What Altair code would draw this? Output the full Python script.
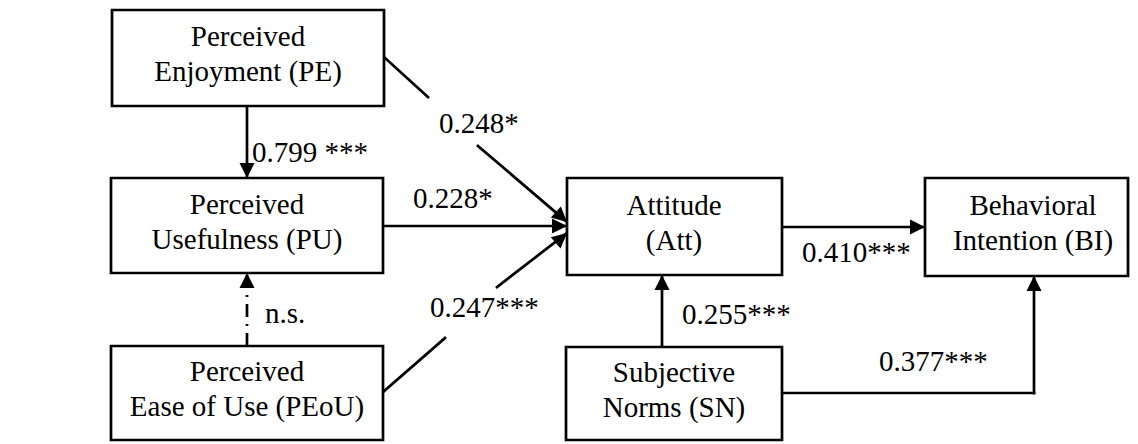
import altair as alt
import pandas as pd

# ---- nodes (constructs) ----
node_ids = ["PE", "PU", "PEoU", "Att", "BI", "SN"]
node_line1 = ["Perceived", "Perceived", "Perceived", "Attitude", "Behavioral", "Subjective"]
node_line2 = ["Enjoyment (PE)", "Usefulness (PU)", "Ease of Use (PEoU)", "(Att)", "Intention (BI)", "Norms (SN)"]
node_left = [112, 111, 111, 567, 925, 566]
node_right = [384, 383, 383, 782, 1128, 782]
node_top = [10, 178, 346, 178, 178, 347]
node_bottom = [106, 273, 440, 275, 276, 440]
node_text_x = [248, 247, 247, 674, 1033, 674]

# ---- path coefficient labels ----
coef_labels = ["0.799 ***", "n.s.", "0.248*", "0.228*", "0.247***", "0.255***", "0.410***", "0.377***"]
coef_x = [252, 265, 439, 413, 430, 682, 802, 879]
coef_y = [162, 323, 133, 208, 317, 324, 262, 371]

# ---- path segments ----
seg_x1 = [247, 385, 478, 383, 383, 497, 782, 662, 782, 1034]
seg_y1 = [106, 58, 146, 226, 392, 287, 227, 347, 393, 393]
seg_x2 = [247, 428, 567, 567, 445, 567, 925, 662, 1034, 1034]
seg_y2 = [178, 97, 222, 226, 338, 233, 227, 275, 393, 276]

dash_x1 = [247]
dash_y1 = [346]
dash_x2 = [247]
dash_y2 = [273]

# ---- arrow heads (tip position, direction clockwise from up) ----
head_x = [247, 247, 567, 567, 567, 925, 662, 1034]
head_y = [178, 273, 222, 226, 233, 227, 275, 276]
head_angle = [180, 0, 132, 90, 49, 90, 0, 0]

nodes = pd.DataFrame({
    "id": node_ids, "l1": node_line1, "l2": node_line2,
    "x1": node_left, "x2": node_right, "y1": node_top, "y2": node_bottom,
    "tx": node_text_x,
})
nodes["cy"] = (nodes["y1"] + nodes["y2"]) / 2
nodes["b1"] = nodes["cy"] - 12
nodes["b2"] = nodes["cy"] + 23

coefs = pd.DataFrame({"t": coef_labels, "x": coef_x, "y": coef_y})
segs = pd.DataFrame({"x": seg_x1, "y": seg_y1, "x2": seg_x2, "y2": seg_y2})
dashes = pd.DataFrame({"x": dash_x1, "y": dash_y1, "x2": dash_x2, "y2": dash_y2})
heads = pd.DataFrame({"x": head_x, "y": head_y, "a": head_angle})

XS = alt.Scale(domain=[8, 1130], nice=False, zero=False)
YS = alt.Scale(domain=[8, 444], nice=False, zero=False, reverse=True)
FONT = "Liberation Serif"
FS = 29
SW = 2.7

def X(f):
    return alt.X(f, type="quantitative", scale=XS, axis=None)

def Y(f):
    return alt.Y(f, type="quantitative", scale=YS, axis=None)

lines = alt.Chart(segs).mark_rule(color="black", strokeWidth=SW, strokeCap="square").encode(
    x=X("x"), y=Y("y"), x2="x2", y2="y2"
)
dashed = alt.Chart(dashes).mark_rule(color="black", strokeWidth=SW, strokeDash=[13, 7, 2, 7]).encode(
    x=X("x"), y=Y("y"), x2="x2", y2="y2"
)
boxes = alt.Chart(nodes).mark_rect(fill="white", stroke="black", strokeWidth=SW).encode(
    x=X("x1"), x2="x2", y=Y("y1"), y2="y2"
)
text1 = alt.Chart(nodes).mark_text(font=FONT, fontSize=FS, baseline="alphabetic", align="center", color="black").encode(
    x=X("tx"), y=Y("b1"), text="l1:N"
)
text2 = alt.Chart(nodes).mark_text(font=FONT, fontSize=FS, baseline="alphabetic", align="center", color="black").encode(
    x=X("tx"), y=Y("b2"), text="l2:N"
)
arrows = alt.Chart(heads).mark_point(
    shape="M0,0L-0.5,1L0.5,1Z", filled=True, size=900, color="black", opacity=1, strokeWidth=0
).encode(
    x=X("x"), y=Y("y"), angle=alt.Angle("a:Q", scale=None)
)
labels = alt.Chart(coefs).mark_text(font=FONT, fontSize=FS, baseline="alphabetic", align="left", color="black").encode(
    x=X("x"), y=Y("y"), text="t:N"
)

chart = alt.layer(lines, dashed, arrows, boxes, text1, text2, labels).properties(
    width=1122, height=436, padding=0, background="white",
    autosize=alt.AutoSizeParams(type="none"),
).configure_view(stroke=None).configure_text(font=FONT)

chart.save("out.html", embed_options={"renderer": "svg", "actions": False})
